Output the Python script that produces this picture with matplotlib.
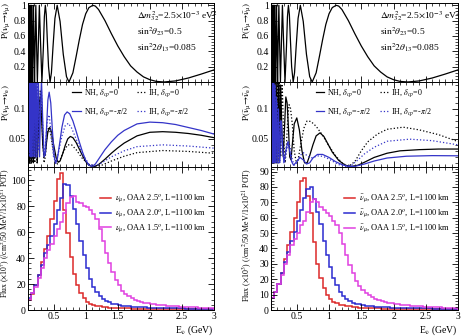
import matplotlib
matplotlib.use("Agg")
import matplotlib.pyplot as plt
from matplotlib.ticker import MultipleLocator
import numpy as np

plt.rcParams['font.family'] = ['Liberation Serif', 'DejaVu Serif']
plt.rcParams['mathtext.fontset'] = 'stix'

# ---- survival probability (same for nu and nubar)
surv = [(0.101, 1), (0.106, 0), (0.111, 1), (0.117, 0), (0.123, 1), (0.130, 0), (0.139, 1),
        (0.148, 0), (0.158, 1), (0.171, 0), (0.178, 0.5), (0.185, 1), (0.193, 0.5), (0.202, 0),
        (0.211, 0.49), (0.222, 1), (0.233, 0.52), (0.246, 0), (0.26, 0.45), (0.277, 1),
        (0.295, 0.53), (0.317, 0), (0.34, 0.46), (0.355, 0.85), (0.37, 1), (0.385, 0.88),
        (0.40, 0.57), (0.42, 0.2), (0.444, 0), (0.465, 0.12), (0.49, 0.46), (0.52, 0.83),
        (0.555, 1), (0.6, 0.79), (0.65, 0.36), (0.7, 0.07), (0.739, 0), (0.8, 0.12),
        (0.85, 0.33), (0.9, 0.55), (0.95, 0.75), (1.0, 0.89), (1.05, 0.97), (1.11, 1),
        (1.15, 0.99), (1.2, 0.945), (1.3, 0.80), (1.4, 0.63), (1.5, 0.47), (1.6, 0.33),
        (1.7, 0.21), (1.8, 0.13), (1.9, 0.067), (2.0, 0.03), (2.1, 0.008), (2.22, 0.0),
        (2.4, 0.014), (2.6, 0.052), (2.8, 0.103), (3.0, 0.158)]

# ---- appearance probability, neutrino
nu_nh0 = [(0.10, 0.02), (0.105, 0.16), (0.11, 0.02), (0.117, 0.17), (0.123, 0.01), (0.13, 0.16),
          (0.139, 0.02), (0.148, 0.16), (0.158, 0.01), (0.17, 0.15), (0.185, 0.01), (0.2, 0.14),
          (0.215, 0.02), (0.23, 0.12), (0.245, 0.01), (0.26, 0.06), (0.275, 0.11), (0.29, 0.12),
          (0.31, 0.09), (0.33, 0.04), (0.35, 0.02), (0.37, 0.025), (0.39, 0.045), (0.41, 0.062),
          (0.44, 0.069), (0.47, 0.060), (0.5, 0.040), (0.54, 0.018), (0.57, 0.011), (0.6, 0.013),
          (0.64, 0.025), (0.68, 0.039), (0.72, 0.050), (0.76, 0.054), (0.8, 0.052), (0.85, 0.044),
          (0.9, 0.033), (0.95, 0.022), (1.0, 0.012), (1.05, 0.006), (1.12, 0.003), (1.2, 0.007),
          (1.3, 0.016), (1.4, 0.026), (1.5, 0.035), (1.6, 0.043), (1.8, 0.055), (2.0, 0.061),
          (2.2, 0.062), (2.4, 0.061), (2.6, 0.059), (2.8, 0.056), (3.0, 0.052)]
nu_nhm = [(0.10, 0.05), (0.104, 0.2), (0.109, 0.03), (0.115, 0.2), (0.121, 0.03), (0.128, 0.2),
          (0.136, 0.02), (0.145, 0.2), (0.155, 0.02), (0.166, 0.2), (0.18, 0.02), (0.195, 0.2),
          (0.21, 0.02), (0.225, 0.19), (0.24, 0.02), (0.26, 0.17), (0.28, 0.02), (0.295, 0.10),
          (0.31, 0.15), (0.33, 0.08), (0.35, 0.02), (0.37, 0.025), (0.39, 0.07), (0.41, 0.115),
          (0.43, 0.128), (0.455, 0.11), (0.48, 0.065), (0.51, 0.02), (0.53, 0.009), (0.56, 0.018),
          (0.59, 0.040), (0.63, 0.070), (0.67, 0.090), (0.71, 0.095), (0.75, 0.092), (0.8, 0.080),
          (0.85, 0.063), (0.9, 0.045), (0.95, 0.028), (1.0, 0.014), (1.05, 0.006), (1.1, 0.004),
          (1.15, 0.008), (1.2, 0.016), (1.3, 0.032), (1.4, 0.045), (1.5, 0.056), (1.6, 0.064),
          (1.8, 0.075), (2.0, 0.078), (2.2, 0.077), (2.4, 0.074), (2.6, 0.069), (2.8, 0.064),
          (3.0, 0.058)]
nu_ih0 = [(0.10, 0.15), (0.106, 0.01), (0.112, 0.15), (0.119, 0.01), (0.126, 0.15), (0.134, 0.01),
          (0.143, 0.15), (0.152, 0.01), (0.163, 0.15), (0.176, 0.01), (0.19, 0.14), (0.206, 0.01),
          (0.222, 0.13), (0.24, 0.01), (0.26, 0.12), (0.275, 0.05), (0.29, 0.13), (0.31, 0.10),
          (0.33, 0.05), (0.35, 0.01), (0.37, 0.02), (0.39, 0.05), (0.42, 0.07), (0.45, 0.06),
          (0.48, 0.04), (0.52, 0.015), (0.56, 0.008), (0.6, 0.015), (0.66, 0.030), (0.72, 0.040),
          (0.78, 0.040), (0.85, 0.032), (0.95, 0.017), (1.05, 0.007), (1.15, 0.004), (1.25, 0.006),
          (1.4, 0.013), (1.6, 0.021), (1.8, 0.027), (2.2, 0.0305), (2.6, 0.029), (3.0, 0.026)]
nu_ihm = [(0.10, 0.2), (0.105, 0.02), (0.11, 0.2), (0.116, 0.02), (0.122, 0.2), (0.13, 0.02),
          (0.138, 0.2), (0.147, 0.02), (0.158, 0.2), (0.17, 0.02), (0.184, 0.2), (0.2, 0.02),
          (0.216, 0.19), (0.232, 0.02), (0.25, 0.17), (0.27, 0.03), (0.29, 0.12), (0.31, 0.13),
          (0.33, 0.07), (0.35, 0.025), (0.37, 0.035), (0.40, 0.08), (0.43, 0.09), (0.46, 0.06),
          (0.5, 0.018), (0.54, 0.012), (0.58, 0.030), (0.63, 0.055), (0.68, 0.072), (0.73, 0.076),
          (0.78, 0.068), (0.85, 0.050), (0.95, 0.024), (1.05, 0.008), (1.15, 0.005), (1.25, 0.010),
          (1.4, 0.020), (1.6, 0.030), (1.8, 0.037), (2.2, 0.040), (2.6, 0.038), (3.0, 0.0345)]

# ---- appearance probability, antineutrino
nb_nh0 = [(0.10, 0.15), (0.106, 0.01), (0.112, 0.15), (0.119, 0.01), (0.126, 0.15), (0.134, 0.01),
          (0.143, 0.15), (0.152, 0.01), (0.163, 0.15), (0.176, 0.01), (0.19, 0.15), (0.205, 0.01),
          (0.22, 0.15), (0.235, 0.02), (0.25, 0.14), (0.27, 0.06), (0.29, 0.02), (0.31, 0.07),
          (0.33, 0.12), (0.35, 0.11), (0.37, 0.07), (0.39, 0.02), (0.41, 0.015), (0.43, 0.04),
          (0.46, 0.075), (0.5, 0.085), (0.54, 0.065), (0.58, 0.03), (0.62, 0.01), (0.66, 0.01),
          (0.7, 0.022), (0.75, 0.040), (0.8, 0.055), (0.86, 0.060), (0.92, 0.054), (0.98, 0.042),
          (1.05, 0.028), (1.15, 0.014), (1.25, 0.006), (1.35, 0.004), (1.45, 0.006), (1.55, 0.011),
          (1.7, 0.019), (1.9, 0.026), (2.1, 0.030), (2.4, 0.032), (2.7, 0.033), (3.0, 0.033)]
nb_nhm = [(0.10, 0.2), (0.105, 0.01), (0.11, 0.2), (0.116, 0.01), (0.122, 0.18), (0.13, 0.01),
          (0.138, 0.16), (0.147, 0.01), (0.158, 0.14), (0.17, 0.01), (0.184, 0.12), (0.2, 0.01),
          (0.216, 0.10), (0.232, 0.01), (0.25, 0.08), (0.26, 0.08), (0.28, 0.04), (0.3, 0.01),
          (0.33, 0.03), (0.36, 0.045), (0.39, 0.03), (0.42, 0.012), (0.45, 0.006), (0.5, 0.012),
          (0.55, 0.019), (0.6, 0.015), (0.65, 0.008), (0.7, 0.010), (0.75, 0.018), (0.82, 0.024),
          (0.9, 0.024), (1.0, 0.019), (1.1, 0.012), (1.2, 0.007), (1.3, 0.004), (1.4, 0.004),
          (1.55, 0.008), (1.7, 0.013), (1.9, 0.018), (2.2, 0.021), (2.6, 0.022), (3.0, 0.0217)]
nb_ih0 = [(0.10, 0.01), (0.105, 0.16), (0.11, 0.01), (0.117, 0.16), (0.123, 0.01), (0.13, 0.16),
          (0.139, 0.01), (0.148, 0.16), (0.158, 0.01), (0.17, 0.16), (0.185, 0.01), (0.2, 0.16),
          (0.215, 0.01), (0.23, 0.16), (0.25, 0.02), (0.27, 0.15), (0.28, 0.12), (0.30, 0.04),
          (0.32, 0.01), (0.34, 0.04), (0.36, 0.085), (0.38, 0.107), (0.40, 0.103), (0.43, 0.075),
          (0.46, 0.03), (0.49, 0.012), (0.52, 0.015), (0.56, 0.040), (0.61, 0.068), (0.66, 0.080),
          (0.72, 0.079), (0.8, 0.071), (0.9, 0.056), (1.0, 0.038), (1.1, 0.022), (1.2, 0.010),
          (1.3, 0.004), (1.4, 0.012), (1.5, 0.030), (1.6, 0.045), (1.75, 0.058), (1.9, 0.066),
          (2.15, 0.0695), (2.4, 0.065), (2.7, 0.057), (3.0, 0.0455)]
nb_ihm = [(0.10, 0.01), (0.104, 0.2), (0.109, 0.01), (0.115, 0.2), (0.121, 0.01), (0.128, 0.18),
          (0.136, 0.01), (0.145, 0.16), (0.155, 0.01), (0.166, 0.14), (0.18, 0.01), (0.195, 0.11),
          (0.21, 0.01), (0.225, 0.08), (0.24, 0.01), (0.26, 0.06), (0.28, 0.03), (0.31, 0.01),
          (0.34, 0.03), (0.37, 0.045), (0.4, 0.035), (0.43, 0.015), (0.46, 0.006), (0.5, 0.010),
          (0.55, 0.022), (0.6, 0.027), (0.66, 0.022), (0.72, 0.018), (0.78, 0.020), (0.85, 0.022),
          (0.95, 0.019), (1.05, 0.013), (1.15, 0.007), (1.25, 0.004), (1.35, 0.006), (1.45, 0.015),
          (1.55, 0.025), (1.7, 0.036), (1.9, 0.046), (2.25, 0.0495), (2.6, 0.047), (3.0, 0.040)]

# ---- fluxes, 50 MeV bins from 0.1 to 3.0 GeV
bin_lo, bin_hi, bin_w = 0.1, 3.0, 0.05
flux_nu_25 = [8, 12, 19, 27, 37, 47, 57, 70, 84, 101, 105, 77, 59, 41, 28, 19, 13, 9, 6.5, 5,
              4, 3.3, 2.8, 2.4, 2.1, 1.9, 1.7, 1.6, 1.5, 1.4, 1.3, 1.2, 1.1, 1.05, 1.0, 0.95, 0.9, 0.85,
              0.8, 0.78, 0.75, 0.72, 0.7, 0.68, 0.66, 0.64, 0.62, 0.6, 0.58, 0.56, 0.55, 0.54, 0.53,
              0.52, 0.51, 0.5, 0.5, 0.5]
flux_nu_20 = [9, 13, 19, 27, 35, 44, 50, 57, 66, 77, 86, 97, 96, 88, 78, 66, 53, 42, 32, 24,
              18, 14, 11, 8.5, 7, 6, 5, 4.3, 3.8, 3.4, 3.1, 2.8, 2.6, 2.4, 2.2, 2.1, 2.0, 1.9,
              1.8, 1.7, 1.6, 1.55, 1.5, 1.45, 1.4, 1.35, 1.3, 1.25, 1.2, 1.15, 1.1, 1.1, 1.05,
              1.0, 1.0, 0.95, 0.95, 0.9]
flux_nu_15 = [8, 13, 18, 25, 32, 40, 46, 51, 57, 62, 68, 75, 82, 87, 88, 83, 82, 80, 79, 77,
              74, 70, 62, 53, 44, 36, 29, 23, 19, 15, 12.5, 10.5, 9, 8, 7, 6.3, 5.7, 5.2, 4.8,
              4.4, 4.1, 3.8, 3.5, 3.3, 3.1, 2.9, 2.7, 2.6, 2.4, 2.3, 2.2, 2.1, 2.0, 1.9, 1.8,
              1.7, 1.6, 1.5]
flux_nb_25 = [8, 12, 17, 24, 33, 42, 51, 60, 70, 84, 86, 74, 63, 44, 30, 21, 14, 10, 7, 5.5,
              4.3, 3.5, 3.0, 2.6, 2.3, 2.0, 1.8, 1.6, 1.5, 1.4, 1.3, 1.2, 1.1, 1.0, 0.95, 0.9,
              0.85, 0.8, 0.75, 0.7, 0.68, 0.65, 0.62, 0.6, 0.58, 0.56, 0.54, 0.52, 0.5, 0.5,
              0.48, 0.46, 0.45, 0.44, 0.43, 0.42, 0.41, 0.4]
flux_nb_20 = [8, 12, 17, 24, 31, 38, 45, 51, 58, 65, 73, 79, 80, 72, 64, 56, 45, 36, 28, 21,
              16, 12, 9, 7, 5.8, 4.8, 4.1, 3.6, 3.2, 2.9, 2.6, 2.4, 2.2, 2.0, 1.9, 1.8, 1.7, 1.6,
              1.5, 1.45, 1.4, 1.35, 1.3, 1.25, 1.2, 1.15, 1.1, 1.05, 1.0, 1.0, 0.95, 0.95, 0.9,
              0.9, 0.85, 0.85, 0.8, 0.8]
flux_nb_15 = [8, 12, 17, 23, 30, 36, 42, 46, 50, 55, 58, 64, 70, 72, 70, 67, 65, 63, 61, 58,
              55, 50, 43, 36, 29, 24, 19, 15.5, 13, 11, 9.5, 8.3, 7.3, 6.5, 5.9, 5.3, 4.8, 4.4,
              4.0, 3.7, 3.4, 3.2, 3.0, 2.8, 2.6, 2.5, 2.3, 2.2, 2.1, 2.0, 1.9, 1.8, 1.7, 1.6,
              1.55, 1.5, 1.45, 1.4]

C_RED, C_BLUE, C_MAG, C_PBLUE = '#dc2a2a', '#2b2bd0', '#e040e0', '#3434c8'

W, H = 462, 336
fig = plt.figure(figsize=(W / 100, H / 100), dpi=100)


def style(ax, ymaj, ymin, xlabels=False):
    ax.set_xlim(0.1, 3.0)
    ax.xaxis.set_major_locator(MultipleLocator(0.5))
    ax.xaxis.set_minor_locator(MultipleLocator(0.1))
    ax.yaxis.set_major_locator(MultipleLocator(ymaj))
    ax.yaxis.set_minor_locator(MultipleLocator(ymin))
    ax.tick_params(which='both', direction='in', top=True, right=True, labelsize=7, pad=1.5)
    ax.tick_params(which='major', length=4, width=0.6)
    ax.tick_params(which='minor', length=2, width=0.5)
    if not xlabels:
        ax.tick_params(labelbottom=False)
    for s in ax.spines.values():
        s.set_linewidth(0.7)


def curve(ax, pts, color, ls):
    e, p = np.array(pts).T
    ax.plot(e, p, color=color, ls=ls, lw=0.9)


def ytitle(xpx, ypx, s, size):
    fig.text(xpx / W, 1 - ypx / H, s, rotation=90, ha='center', va='top', fontsize=size)


cols = [dict(x0=28, w=186, ylab=6.5, bar=False),
        dict(x0=271, w=187, ylab=247, bar=True)]

for c in cols:
    bar = c['bar']
    x0, w = c['x0'] / W, c['w'] / W
    nu = r'\bar{\nu}' if bar else r'\nu'
    # top panel
    ax1 = fig.add_axes([x0, 1 - 82 / H, w, 79 / H])
    curve(ax1, surv, 'black', '-')
    ax1.set_ylim(0, 1.03)
    style(ax1, 0.2, 0.04)
    ax1.set_yticks([0.2, 0.4, 0.6, 0.8, 1.0], ['0.2', '0.4', '0.6', '0.8', '1'])
    ytitle(c['ylab'], 2, r'$\mathrm{P(%s_{\mu}\!\rightarrow\! %s_{\mu})}$' % (nu, nu), 6.5)
    ax1.text(0.585, 0.80, r'$\Delta m^2_{32}$=2.5$\times$10$^{-3}$ eV$^2$', transform=ax1.transAxes,
             fontsize=6.8)
    ax1.text(0.585, 0.60, r'sin$^2\theta_{23}$=0.5', transform=ax1.transAxes, fontsize=6.8)
    ax1.text(0.585, 0.40, r'sin$^2 2\theta_{13}$=0.085', transform=ax1.transAxes, fontsize=6.8)

    # middle panel
    ax2 = fig.add_axes([x0, 1 - 167 / H, w, 85 / H])
    if bar:
        sets = [nb_nh0, nb_nhm, nb_ih0, nb_ihm]
    else:
        sets = [nu_nh0, nu_nhm, nu_ih0, nu_ihm]
    curve(ax2, sets[0], 'black', '-')
    curve(ax2, sets[2], 'black', ':')
    curve(ax2, sets[3], C_PBLUE, ':')
    curve(ax2, sets[1], C_PBLUE, '-')
    ax2.set_ylim(0.003, 0.145)
    style(ax2, 0.05, 0.01)
    ax2.set_yticks([0.05, 0.1], ['0.05', '0.1'])
    ytitle(c['ylab'], 84, r'$\mathrm{P(%s_{\mu}\!\rightarrow\! %s_{e})}$' % (nu, nu), 6.5)
    h = [plt.Line2D([], [], color='black', lw=0.9),
         plt.Line2D([], [], color=C_PBLUE, lw=0.9),
         plt.Line2D([], [], color='black', lw=0.9, ls=':'),
         plt.Line2D([], [], color=C_PBLUE, lw=0.9, ls=':')]
    lab = [r'NH, $\delta_{cp}$=0', r'NH, $\delta_{cp}$=-$\pi$/2',
           r'IH, $\delta_{cp}$=0', r'IH, $\delta_{cp}$=-$\pi$/2']
    ax2.legend(h, lab, ncol=2, frameon=False, fontsize=5.8, handlelength=1.0, handletextpad=0.4,
               columnspacing=1.1, labelspacing=0.8, loc='upper left',
               bbox_to_anchor=(0.2, 1.02))

    # bottom panel
    ax3 = fig.add_axes([x0, 1 - 310 / H, w, 143 / H])
    edges = np.arange(bin_lo, bin_hi + bin_w / 2, bin_w)
    if bar:
        fl = [flux_nb_25, flux_nb_20, flux_nb_15]
    else:
        fl = [flux_nu_25, flux_nu_20, flux_nu_15]
    for vals, col, oaa in zip(fl, [C_RED, C_BLUE, C_MAG], ['2.5', '2.0', '1.5']):
        ax3.stairs(vals, edges, color=col, lw=1.1,
                   label=r'$%s_{\mu}$, OAA %s$^{o}$, L=1100 km' % (nu, oaa))
    if bar:
        ax3.set_ylim(0, 93)
        style(ax3, 10, 2, xlabels=True)
        ytitle(c['ylab'], 168, r'Flux ($\times$10$^{3}$) (/cm$^2$/50 MeV/1$\times$10$^{21}$ POT)', 5.8)
    else:
        ax3.set_ylim(0, 110)
        style(ax3, 20, 4, xlabels=True)
        ytitle(5.5, 168, r'Flux ($\times$10$^{7}$) (/cm$^2$/50 MeV/1$\times$10$^{21}$ POT)', 5.6)
    ax3.set_xticks([0.5, 1, 1.5, 2, 2.5, 3], ['0.5', '1', '1.5', '2', '2.5', '3'])
    fig.text((c['x0'] + c['w']) / W, 1 - 330 / H, r'E$_{\nu}$ (GeV)', ha='right', va='center',
             fontsize=7)
    ax3.legend(frameon=False, fontsize=6, handlelength=1.3, handletextpad=0.5,
               labelspacing=0.3, loc='upper right', bbox_to_anchor=(1.0, 0.87))

fig.savefig('out.png', dpi=100)
